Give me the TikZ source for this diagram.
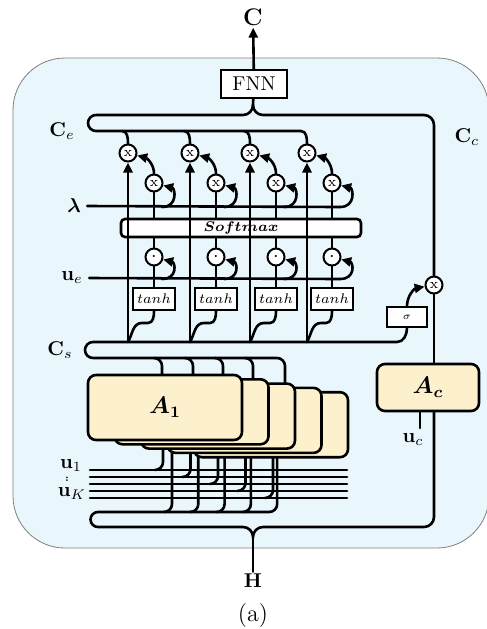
\documentclass[tikz,border=0pt]{standalone}
\usepackage{amsmath, amssymb, bm}
\usetikzlibrary{arrows.meta, positioning}
\definecolor{panelblue}{RGB}{233,246,252}
\definecolor{blockyellow}{RGB}{253,241,205}
\pgfdeclarelayer{panel}
\pgfdeclarelayer{wires}
\pgfsetlayers{panel,wires,main}
\tikzset{
  wire/.style={line width=1.3pt, line cap=round},
  mulop/.style={circle, draw, line width=1pt, fill=white, minimum size=8.5pt, inner sep=0pt, font=\scriptsize},
  dotop/.style={mulop, font=\normalsize},
  opbox/.style={draw, line width=1.3pt, fill=white, inner sep=0pt, font=\scriptsize},
  attn/.style={draw, line width=1.3pt, rounded corners=4pt, fill=blockyellow, minimum width=77pt, minimum height=32.5pt, inner sep=0pt, font=\large},
  lbl/.style={inner sep=1pt}
}

\begin{document}
\begin{tikzpicture}[x=0.5pt, y=0.5pt, >={Triangle[length=5pt, width=4.5pt]}]
  \useasboundingbox (0,0) rectangle (487,-629);
  \begin{pgfonlayer}{panel}
    \draw[gray, fill=panelblue, rounded corners=26pt] (13,-58) rectangle (489,-548);
  \end{pgfonlayer}
  % output side
  \node[opbox, line width=1pt, minimum width=33pt, minimum height=14pt, font=\normalsize] (fnn) at (254,-84) {FNN};
  \node[lbl, font=\large] (cout) at (253,-17) {$\mathbf{C}$};
  \draw[wire, ->] (fnn) -- (cout);
  \coordinate (fork) at (253,-105);
  %
  \node[lbl] (ce) at (62,-131) {$\mathbf{C}_e$};
  \node[lbl] (cc) at (467,-137) {$\mathbf{C}_c$};
  \node[lbl] (lam) at (74,-206) {$\boldsymbol{\lambda}$};
  \node[lbl] (ue) at (72,-278) {$\mathbf{u}_e$};
  \node[lbl] (cs) at (60,-350) {$\mathbf{C}_s$};
  \node[lbl] (u1) at (71,-466) {$\mathbf{u}_1$};
  \node[lbl, inner sep=0pt, font=\tiny] (udots) at (67,-479) {\textbf{:}};
  \node[lbl] (uK) at (72,-494) {$\mathbf{u}_K$};
  \node[lbl] (hin) at (253,-581) {$\mathbf{H}$};
  \node[lbl, font=\large] (caption) at (253,-616) {(a)};
  %
  \node[opbox, rounded corners=2pt, minimum width=120pt, minimum height=9pt] (smax) at (241,-228) {$\boldsymbol{Softmax}$};
  \draw[wire] (fork) -- (fnn);
  \draw[wire] (fork) to[out=-90,in=0] (243,-115) -- (96,-115) arc[start angle=90, end angle=270, radius=8] -- (301,-131);
  \draw[wire] ([xshift=2pt]lam.east) -- (340,-207);
  \draw[wire] ([xshift=2pt]ue.east) -- (340,-279);
  %
  \foreach \m/\s [count=\i] in {128/154, 190/216, 250/276, 307/332} {
    \node[mulop] (mulA\i) at (\m,-153) {x};
    \node[mulop] (mulB\i) at (\s,-183) {x};
    \node[dotop] (dot\i) at (\s,-257) {$\cdot$};
    \node[opbox, minimum width=21pt, minimum height=11pt] (tanh\i) at (\s,-299) {$tanh$};
    \coordinate (csA\i) at (\m,-342);
    \draw[wire] (\m-6,-131) to[out=0,in=90] (mulA\i);
    \draw[wire, ->] (csA\i) -- (mulA\i);
    \draw[wire, ->] (mulB\i) to[out=90,in=-15] (mulA\i);
    \draw[wire] (csA\i) to[out=60,in=180] (\m+14,-323) -- (\s-6,-323) to[out=0,in=-90] (tanh\i);
    \draw[wire] (tanh\i) -- (dot\i);
    \draw[wire] (dot\i) -- (dot\i |- smax.south);
    \draw[wire] (mulB\i |- smax.north) -- (mulB\i);
    \draw[wire, ->] (\s+8,-279) .. controls +(16,0) and +(12,-3) .. (dot\i.-15);
    \draw[wire, ->] (\s+8,-207) .. controls +(16,0) and +(12,-3) .. (mulB\i.-15);
  }
  % context branch
  \node[mulop] (mulC) at (434,-285) {x};
  \node[opbox, line width=1pt, minimum width=20pt, minimum height=10pt, font=\tiny] (sig) at (407,-317) {$\sigma$};
  \node[attn, minimum width=51pt, minimum height=23.5pt] (Ac) at (428,-387.5) {$\boldsymbol{A_c}$};
  \node[lbl] (uc) at (413,-440) {$\mathbf{u}_c$};
  \coordinate (ucEnd) at (420,-428);
  \draw[wire] (fork) to[out=-90,in=180] (263,-115) -- (424,-115) to[out=0,in=90] (434,-125) -- (mulC);
  \draw[wire] (mulC) -- (mulC |- Ac.north);
  \draw[wire, ->] (sig) to[out=90,in=190] (mulC);
  \draw[wire] (Ac.south -| ucEnd) -- (ucEnd);
  % heads
  \foreach \k in {4,3,2,1}
    \node[attn] (blk\k) at ({165+26.5*\k},{-407.5-4.3*\k}) {};
  \node[attn] (blk0) at (165,-407.5) {$\boldsymbol{A_1}$};
  \begin{pgfonlayer}{wires}
    \draw[wire] (sig) to[out=-90,in=0] (397,-342) -- (93,-342) arc[start angle=90, end angle=270, radius=8] -- (277,-358) to[out=0,in=90] (285,-366) -- (285,-366 |- blk4.north);
    \foreach \x [count=\k from 0] in {162,193,223,253}
      \draw[wire] (\x-8,-358) to[out=0,in=90] (\x,-366) -- (\x,-366 |- blk\k.north);
    \foreach \y [count=\k from 0] in {470,477,484,491,498}
      \draw[wire] (90,-\y) -- (347,-\y);
    \foreach \k [evaluate=\k as \xu using 163+27.5*\k, evaluate=\k as \xh using 172+26.3*\k, evaluate=\k as \yu using 470+7*\k] in {0,...,4} {
      \draw[wire] (\xu,0 |- blk\k.south) -- (\xu,-\yu+8) to[out=-90,in=0] (\xu-8,-\yu);
      \draw[wire] (\xh,0 |- blk\k.south) -- (\xh,-504) to[out=-90,in=0] (\xh-8,-512);
    }
    \draw[wire] (269,-512) -- (98,-512) arc[start angle=90, end angle=270, radius=7.5] -- (243,-527) to[out=0,in=90] (253,-537) to[out=90,in=180] (263,-527) -- (424,-527) to[out=0,in=-90] (434,-517) -- (434,-517 |- Ac.south);
    \draw[wire] (253,-537) -- (hin);
  \end{pgfonlayer}
\end{tikzpicture}
\end{document}
